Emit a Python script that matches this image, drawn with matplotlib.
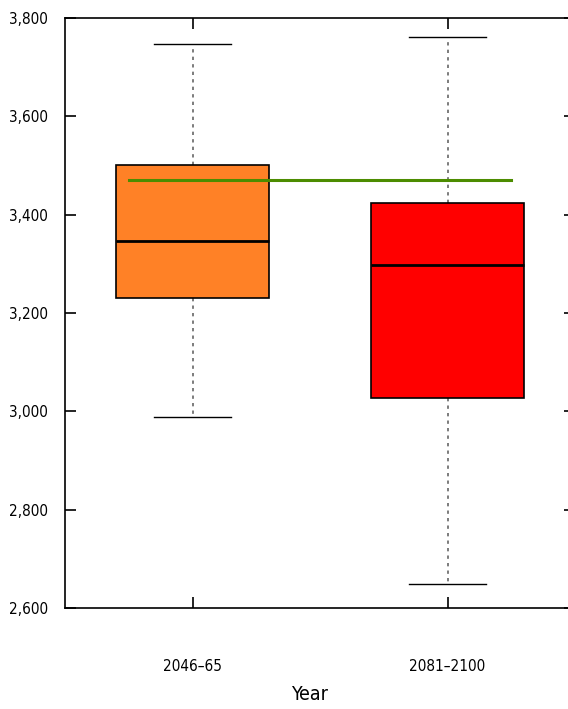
import matplotlib
matplotlib.use('Agg')
import matplotlib.pyplot as plt
from matplotlib.ticker import FuncFormatter

plt.rcParams['font.family'] = ['DejaVu Sans']
plt.rcParams['font.stretch'] = 'condensed'

periods = ['2046\u201365', '2081\u20132100']
whislo = [2988, 2648]
q1 = [3231, 3028]
med = [3347, 3298]
q3 = [3502, 3424]
whishi = [3747, 3762]
box_colors = ['#FF8126', '#FF0000']
baseline = 3471

stats = []
for i in range(len(periods)):
    stats.append({'label': periods[i], 'whislo': whislo[i], 'q1': q1[i], 'med': med[i],
                  'q3': q3[i], 'whishi': whishi[i], 'fliers': []})

fig = plt.figure(figsize=(5.68, 7.09), dpi=100)
ax = fig.add_axes([65/568, 101/709, 510/568, 590/709])

bp = ax.bxp(stats, positions=[1, 2], widths=0.6, patch_artist=True, showfliers=False,
            boxprops=dict(edgecolor='black', linewidth=1.2),
            medianprops=dict(color='black', linewidth=2),
            whiskerprops=dict(color='#666666', linestyle=(0, (2, 2.5)), linewidth=1.2),
            capprops=dict(color='black', linewidth=1),
            capwidths=0.3)
for patch, c in zip(bp['boxes'], box_colors):
    patch.set_facecolor(c)
for w in bp['whiskers']:
    w.set_zorder(1)

ax.plot([0.75, 2.25], [baseline, baseline], color='#4C8C00', linewidth=2.2, zorder=5)

ax.set_xlim(0.5, 2.5)
ax.set_ylim(2600, 3800)
ax.set_yticks(range(2600, 3801, 200))
ax.yaxis.set_major_formatter(FuncFormatter(lambda v, p: f'{int(v):,}'))
ax.set_xticks([1, 2])
ax.set_xticklabels(periods)
ax.tick_params(direction='in', length=8, width=1.2, top=True, right=True, labelsize=11)
ax.tick_params(axis='x', pad=37)
ax.tick_params(axis='y', pad=12)
for s in ax.spines.values():
    s.set_linewidth(1.2)
ax.set_xlabel('Year', fontsize=14)
ax.xaxis.set_label_coords(0.48, -0.13)

fig.savefig('out.png', dpi=100)
